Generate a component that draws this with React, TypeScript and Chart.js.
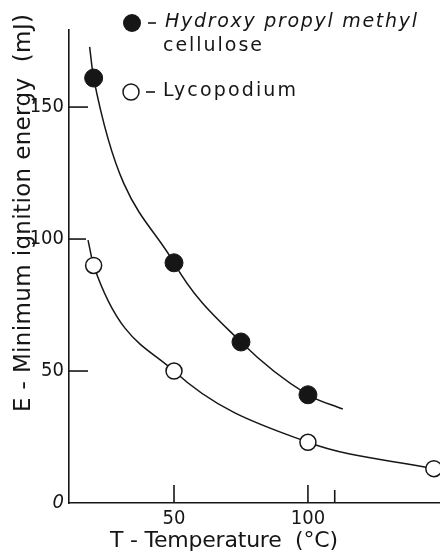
import React, { useEffect, useRef } from 'react';
import { Chart, registerables } from 'chart.js';

Chart.register(...registerables);

// Measured data points (°C, mJ)
const hpmcTemps = [20, 50, 75, 100];
const hpmcEnergy = [161, 91, 61, 41];
const lycoTemps = [20, 50, 100, 147];
const lycoEnergy = [90, 50, 23, 13];

// Fitted curves as drawn in the figure (ends)
const hpmcCurveTemps = [18.5, 20, 50, 75, 100, 113];
const hpmcCurveEnergy = [172.8, 161, 91, 61, 41, 35.6];
const lycoCurveTemps = [17.9, 20, 50, 100, 147];
const lycoCurveEnergy = [99.6, 90, 50, 23, 13];

// Axis ticks
const yTicks = [0, 50, 100, 150];
const xTicks = [50, 100];
const xExtraTicks = [110];

// Text
const yTitle = 'E - Minimum ignition energy  (mJ)';
const xTitle = 'T - Temperature  (°C)';
const legendHpmc1 = 'Hydroxy propyl methyl';
const legendHpmc2 = 'cellulose';
const legendLyco = 'Lycopodium';

const INK = '#161616';
const FONT = "'DejaVu Sans', 'Open Sans', sans-serif";
const NARROW = "'Liberation Sans Narrow', 'DejaVu Sans Condensed', 'Liberation Sans', sans-serif";

function fitText(ctx: CanvasRenderingContext2D, text: string, x: number, y: number, width: number) {
  (ctx as any).letterSpacing = '0px';
  const w = ctx.measureText(text).width;
  const ls = (width - w) / Math.max(1, text.length - 1);
  (ctx as any).letterSpacing = ls + 'px';
  ctx.textAlign = 'left';
  ctx.fillText(text, x, y);
  (ctx as any).letterSpacing = '0px';
}

const decorPlugin = {
  id: 'decor',
  afterDraw(chart: any) {
    const ctx: CanvasRenderingContext2D = chart.ctx;
    const xs = chart.scales.x;
    const ys = chart.scales.y;
    const left = chart.chartArea.left;
    const bottom = chart.chartArea.bottom;
    ctx.save();
    ctx.strokeStyle = INK;
    ctx.lineWidth = 1.6;
    // inward y ticks
    const yLen: Record<number, number> = { 50: 19, 100: 17, 150: 19 };
    yTicks.forEach((v) => {
      if (!yLen[v]) return;
      const py = ys.getPixelForValue(v);
      ctx.beginPath();
      ctx.moveTo(left, py);
      ctx.lineTo(left + yLen[v], py);
      ctx.stroke();
    });
    // inward x ticks
    xTicks.forEach((v) => {
      const px = xs.getPixelForValue(v);
      ctx.beginPath();
      ctx.moveTo(px, bottom);
      ctx.lineTo(px, bottom - 18);
      ctx.stroke();
    });
    xExtraTicks.forEach((v) => {
      const px = xs.getPixelForValue(v);
      ctx.beginPath();
      ctx.moveTo(px, bottom);
      ctx.lineTo(px, bottom - 13);
      ctx.stroke();
    });

    ctx.fillStyle = INK;
    ctx.textBaseline = 'middle';
    // y title
    ctx.save();
    ctx.translate(24, 212);
    ctx.rotate(-Math.PI / 2);
    ctx.font = `23px ${FONT}`;
    fitText(ctx, yTitle, -200, 0, 398);
    ctx.restore();
    // x title
    ctx.font = `22px ${FONT}`;
    fitText(ctx, xTitle, 110, 541, 228);

    // legend
    ctx.beginPath();
    ctx.arc(132, 23, 9, 0, Math.PI * 2);
    ctx.fill();
    ctx.beginPath();
    ctx.moveTo(148, 23);
    ctx.lineTo(156, 23);
    ctx.stroke();
    ctx.font = `italic 19px ${FONT}`;
    fitText(ctx, legendHpmc1, 165, 22, 252);
    ctx.font = `19px ${FONT}`;
    fitText(ctx, legendHpmc2, 163, 46, 99);

    ctx.beginPath();
    ctx.arc(131, 92, 8, 0, Math.PI * 2);
    ctx.fillStyle = '#fff';
    ctx.fill();
    ctx.lineWidth = 1.5;
    ctx.stroke();
    ctx.fillStyle = INK;
    ctx.lineWidth = 1.6;
    ctx.beginPath();
    ctx.moveTo(146, 92);
    ctx.lineTo(155, 92);
    ctx.stroke();
    ctx.font = `19px ${FONT}`;
    fitText(ctx, legendLyco, 163, 91, 133);
    ctx.restore();
  },
};

export default function App() {
  const ref = useRef<HTMLCanvasElement | null>(null);
  useEffect(() => {
    if (!ref.current) return;
    const toXY = (xs: number[], ys: number[]) => xs.map((x, i) => ({ x, y: ys[i] }));
    const chart = new Chart(ref.current, {
      type: 'line',
      data: {
        datasets: [
          {
            label: 'Hydroxy propyl methyl cellulose',
            data: toXY(hpmcTemps, hpmcEnergy),
            showLine: false,
            pointRadius: 9,
            pointBackgroundColor: INK,
            pointBorderColor: INK,
            pointBorderWidth: 1,
            clip: false,
          },
          {
            label: 'Lycopodium',
            data: toXY(lycoTemps, lycoEnergy),
            showLine: false,
            pointRadius: 8,
            pointBackgroundColor: '#ffffff',
            pointBorderColor: INK,
            pointBorderWidth: 1.5,
            clip: false,
          },
          {
            label: 'HPMC fit',
            data: toXY(hpmcCurveTemps, hpmcCurveEnergy),
            borderColor: INK,
            borderWidth: 1.5,
            pointRadius: 0,
            cubicInterpolationMode: 'monotone',
            fill: false,
            clip: false,
          },
          {
            label: 'Lycopodium fit',
            data: toXY(lycoCurveTemps, lycoCurveEnergy),
            borderColor: INK,
            borderWidth: 1.5,
            pointRadius: 0,
            cubicInterpolationMode: 'monotone',
            fill: false,
            clip: false,
          },
        ],
      },
      options: {
        animation: false,
        responsive: false,
        maintainAspectRatio: false,
        layout: { autoPadding: false, padding: { top: 30, left: 0, right: 0, bottom: 0 } },
        plugins: { legend: { display: false }, tooltip: { enabled: false } },
        scales: {
          x: {
            type: 'linear',
            min: 10.8,
            max: 149.3,
            grid: { display: false, drawTicks: false },
            border: { display: true, color: INK, width: 1.6 },
            afterBuildTicks: (s: any) => {
              s.ticks = xTicks.map((v) => ({ value: v }));
            },
            afterFit: (s: any) => {
              s.height = 48;
              s.paddingLeft = 0;
              s.paddingRight = 0;
            },
            ticks: {
              padding: 4,
              color: INK,
              autoSkip: false,
              maxRotation: 0,
              font: { family: NARROW, size: 20 },
            },
          },
          y: {
            type: 'linear',
            min: 0,
            max: 179.2,
            grid: { display: false, drawTicks: false },
            border: { display: true, color: INK, width: 1.6 },
            afterBuildTicks: (s: any) => {
              s.ticks = yTicks.map((v) => ({ value: v }));
            },
            afterFit: (s: any) => {
              s.width = 69;
              s.paddingTop = 0;
              s.paddingBottom = 0;
            },
            ticks: {
              padding: 5,
              color: INK,
              autoSkip: false,
              font: (c: any) =>
                c.tick && c.tick.value === 0
                  ? { family: NARROW, size: 20, style: 'italic' }
                  : { family: NARROW, size: 20 },
            },
          },
        },
      },
      plugins: [decorPlugin],
    } as any);
    return () => chart.destroy();
  }, []);
  return (
    <div style={{ position: 'absolute', left: 0, top: 0, width: 440, height: 551, background: '#fff' }}>
      <canvas ref={ref} width={440} height={551} style={{ width: 440, height: 551 }} />
    </div>
  );
}
